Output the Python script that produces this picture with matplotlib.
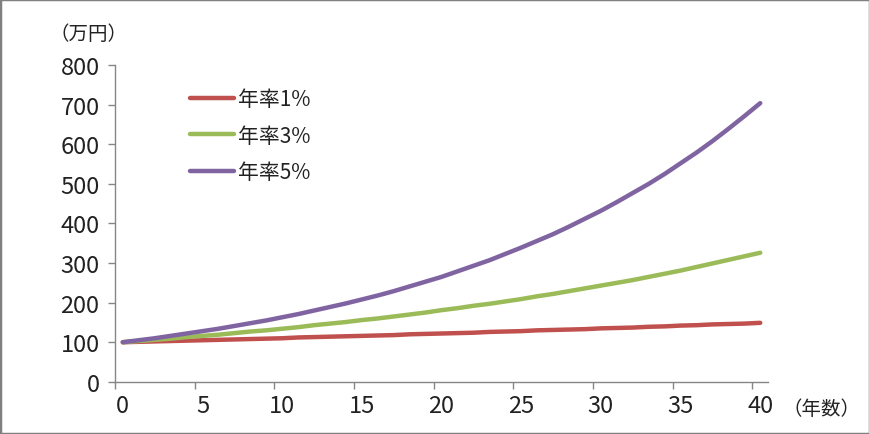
import matplotlib
matplotlib.use('Agg')
import matplotlib.pyplot as plt
from matplotlib.patches import Rectangle

plt.rcParams['font.family'] = ['Liberation Sans Narrow', 'Noto Sans CJK JP', 'DejaVu Sans']

# 経過年数と元本100万円の推移
years = list(range(41))
rate1 = [100, 101, 102, 103, 104, 105, 106, 107, 108, 109, 110, 112, 113, 114, 115, 116,
         117, 118, 120, 121, 122, 123, 124, 126, 127, 128, 130, 131, 132, 133, 135, 136,
         137, 139, 140, 142, 143, 145, 146, 147, 149]
rate3 = [100, 103, 106, 109, 113, 116, 119, 123, 127, 130, 134, 138, 143, 147, 151, 156,
         160, 165, 170, 175, 181, 186, 192, 197, 203, 209, 216, 222, 229, 236, 243, 250,
         257, 265, 273, 281, 290, 299, 308, 317, 326]
rate5 = [100, 105, 110, 116, 122, 128, 134, 141, 148, 155, 163, 171, 180, 189, 198, 208,
         218, 229, 241, 253, 265, 279, 293, 307, 323, 339, 356, 373, 392, 412, 432, 454,
         477, 500, 525, 552, 579, 608, 639, 671, 704]
labels = ['年率1%', '年率3%', '年率5%']
colors = ['#C0504D', '#9BBB59', '#8064A2']

fig = plt.figure(figsize=(8.7, 4.35), dpi=100)
ax = fig.add_axes([0.132, 0.12, 0.751, 0.728])

for vals, lab, c in zip([rate1, rate3, rate5], labels, colors):
    ax.plot(years, vals, color=c, lw=3.2, label=lab, solid_capstyle='round')

ax.set_xlim(-0.5, 40.5)
ax.set_ylim(0, 800)
ax.set_yticks(range(0, 801, 100))
ax.set_xticks(range(0, 41, 5))
# Excel風：目盛線は項目の境界
ax.set_xticks([x - 0.5 for x in range(0, 41, 5)], minor=True)
ax.tick_params(axis='x', which='major', length=0, pad=9, labelsize=17, labelcolor='#222222')
ax.tick_params(axis='x', which='minor', length=5, color='#868686', width=1)
ax.tick_params(axis='y', length=5, color='#868686', width=1, pad=6, labelsize=17,
               labelcolor='#222222')

for s in ['top', 'right']:
    ax.spines[s].set_visible(False)
for s in ['left', 'bottom']:
    ax.spines[s].set_color('#868686')
    ax.spines[s].set_linewidth(1)

leg = ax.legend(loc='upper left', bbox_to_anchor=(190 / 870, 1 - 89 / 435),
                bbox_transform=fig.transFigure, frameon=False, fontsize=15,
                handlelength=2.1, handletextpad=0.2, labelspacing=0.7,
                borderaxespad=0, borderpad=0)
for t in leg.get_texts():
    t.set_color('#222222')

fig.text(50 / 870, 1 - 35 / 435, '（万円）', fontsize=14, color='#222222', va='center')
fig.text(783 / 870, 1 - 410 / 435, '（年数）', fontsize=14, color='#222222', va='center')

fig.patches.append(Rectangle((0, 0), 1, 1, transform=fig.transFigure, fill=False,
                             edgecolor='#808080', lw=2.5))

fig.savefig('out.png', dpi=100)
